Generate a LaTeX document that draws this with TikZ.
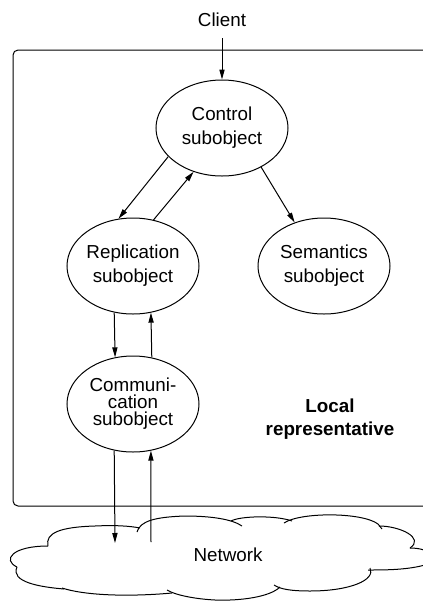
\documentclass[tikz,border=0pt]{standalone}
\usepackage{fontspec}
\setmainfont{Liberation Sans}
\usetikzlibrary{shapes.geometric,arrows.meta}
\begin{document}
\begin{tikzpicture}[x=0.5pt,y=-0.5pt,
  line width=0.5pt,
  sub/.style={ellipse,draw,minimum width=66pt,minimum height=48pt,inner sep=0pt,
    align=center,font=\fontsize{9.4}{12}\selectfont},
  arr/.style={-{Triangle[length=5pt,width=2.6pt]}},
  lbl/.style={inner sep=0pt,font=\fontsize{9.4}{12}\selectfont},
  cloudpart/.style={line width=0.5pt}]
\clip (0,0) rectangle (423,601);
\fill[white] (0,0) rectangle (423,601);

% local representative frame (runs past the right edge)
\draw[rounded corners=2.5pt] (13,50) rectangle (440,506);

% subobjects
\node[sub] (ctrl) at (222,128) {Control\\subobject};
\node[sub] (repl) at (133,266) {Replication\\subobject};
\node[sub] (sem)  at (324,266) {Semantics\\subobject};
\node[sub,font=\fontsize{9.4}{8.5}\selectfont] (comm) at (133,404) {Communi-\\cation\\subobject};

% labels
\node[lbl] (client) at (222,20) {Client};
\node[lbl,align=center,font=\bfseries\fontsize{9.4}{11.5}\selectfont] (local) at (330,419) {Local\\representative};
\node[lbl] (net) at (228,555) {Network};

% network cloud, drawn lobe by lobe
\draw[cloudpart] (17,567) .. controls (2,560) and (12,546) .. (48,546);
\draw[cloudpart] (48,546) .. controls (45,533) and (60,527) .. (95,526)
                 .. controls (115,525) and (130,526) .. (140,528);
\draw[cloudpart] (137,532) .. controls (140,521) and (155,517) .. (185,516)
                 .. controls (210,516) and (232,519) .. (242,526);
\draw[cloudpart] (231,521) .. controls (240,516) and (275,515) .. (292,521);
\draw[cloudpart] (284,523) .. controls (300,512) and (362,512) .. (378,524)
                 .. controls (380,526) .. (382,529);
\draw[cloudpart] (379,526) .. controls (400,526) and (425,538) .. (410,548);
\draw[cloudpart] (410,548) .. controls (432,548) and (440,560) .. (424,565);
\draw[cloudpart] (428,564) .. controls (410,570) and (385,570) .. (368,570);
\draw[cloudpart] (370,568) .. controls (376,580) and (350,591) .. (310,591)
                 .. controls (290,591) and (280,589) .. (274,585);
\draw[cloudpart] (280,587) .. controls (270,597) and (240,601) .. (215,600)
                 .. controls (195,599) and (175,595) .. (167,590);
\draw[cloudpart] (172,593) .. controls (140,596) and (90,597) .. (62,588);
\draw[cloudpart] (64,589) .. controls (40,587) and (10,582) .. (17,567);

% connectors
\draw[arr] ([yshift=-5.5pt]client.south) -- (ctrl.north);
\draw[arr] (ctrl.208) -- (repl.107);
\draw[arr] (repl.66.5) -- (ctrl.237);
\draw[arr] (ctrl.315) -- (sem.124);
\draw[arr] (repl.248.7) -- (comm.111.3);
\draw[arr] (comm.68.7) -- (repl.291.3);
\coordinate (netin) at (115,543);
\coordinate (netout) at (151,542);
\draw[arr] (comm.248.7) -- (netin);
\draw[arr] (netout) -- (comm.291.3);
\end{tikzpicture}
\end{document}
